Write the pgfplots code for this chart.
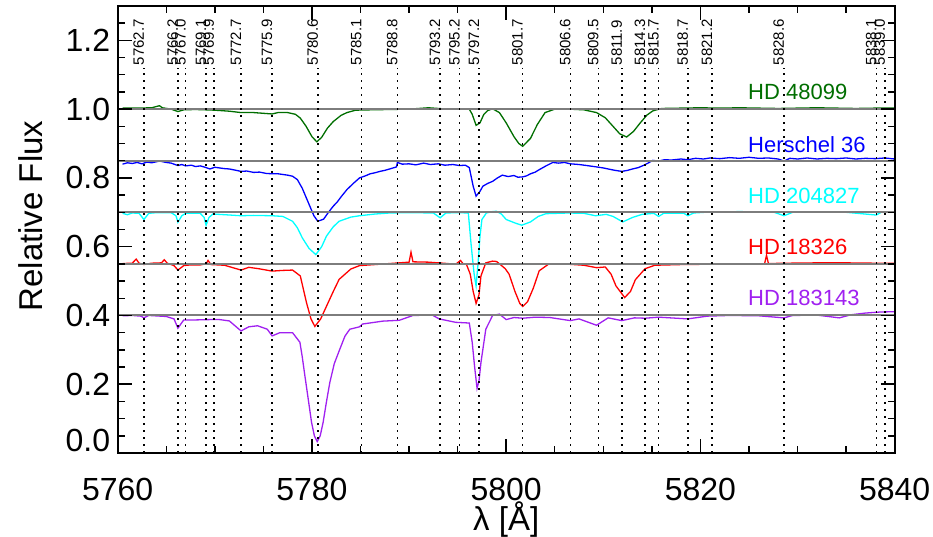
\documentclass[border=0pt]{standalone}
\usepackage{pgfplots}
\pgfplotsset{compat=1.18}
\usepackage{fontspec}
\setmainfont{Liberation Sans}
\definecolor{sgreen}{RGB}{0,110,0}
\definecolor{sblue}{RGB}{0,0,255}
\definecolor{scyan}{RGB}{0,255,255}
\definecolor{sred}{RGB}{255,0,0}
\definecolor{spurple}{RGB}{160,32,240}
\definecolor{sgray}{RGB}{125,125,125}
\begin{document}
\begin{tikzpicture}
\useasboundingbox (-117.7pt,-84pt) rectangle (815.3pt,453pt);
\begin{axis}[
  at={(0pt,0pt)}, anchor=south west,
  width=777pt, height=447pt, scale only axis,
  xmin=5760, xmax=5840, ymin=0, ymax=1.3,
  xtick={5760,5780,5800,5820,5840},
  xticklabels={5760,5780,5800,5820,5840},
  ytick={0.036,0.2,0.4,0.6,0.8,1.0,1.2},
  yticklabels={0.0,0.2,0.4,0.6,0.8,1.0,1.2},
  tick style={draw=none},
  axis line style={draw=black, line width=1.8pt},
  axis on top,
  /pgf/number format/assume math mode=true,
  tick label style={font=\fontsize{32}{32}\selectfont},
  xticklabel style={yshift=-22pt},
  yticklabel style={xshift=-4pt},
  xlabel={λ [Å]}, ylabel={Relative Flux},
  label style={font=\fontsize{33}{33}\selectfont},
  y label style={at={(axis description cs:-0.112,0.53)}, anchor=center},
  x label style={at={(axis description cs:0.5,0)}, anchor=center, inner sep=0pt, yshift=-67pt},
  clip=false,
]
% HD 48099
\addplot[sgreen, line width=1.3pt] coordinates {
(5760.5,1.003) (5762,1.003) (5763.5,1.004) (5764.3,1.01) (5764.6,1.004) (5765.5,1.0) (5766.2,0.993) (5766.8,0.998) (5768,0.999) (5770,0.997) (5771.5,0.994) (5772.7,0.99) (5774,0.99) (5775.9,0.986) (5776.5,0.99) (5777.5,0.99) (5778.3,0.985) (5778.8,0.974) (5779.4,0.95) (5780,0.92) (5780.5,0.905) (5781,0.918) (5781.6,0.945) (5782.2,0.964) (5783,0.982) (5783.6,0.99) (5784.5,0.997) (5786,0.998) (5788,0.999) (5790,1.0) (5792,1.004) (5793.5,1.001) (5795,1.0) (5796.2,1.0) (5796.5,0.985) (5796.9,0.953) (5797.3,0.96) (5797.7,0.985) (5798.1,0.996) (5798.6,1.001) (5799.3,0.99) (5800,0.96) (5800.8,0.92) (5801.3,0.9) (5801.7,0.892) (5802.5,0.915) (5803.2,0.955) (5804,0.99) (5805,1.0) (5806.5,1.0) (5808,0.998) (5809.3,0.99) (5810.2,0.975) (5811,0.95) (5811.7,0.928) (5812.4,0.919) (5813.1,0.935) (5813.8,0.96) (5814.5,0.983) (5815.1,0.995) (5816,1.002) (5818,1.003) (5820,1.004) (5822,1.003) (5824,1.004) (5826,1.003) (5828,1.002) (5830,1.003) (5832,1.004) (5834,1.003) (5836,1.002) (5838,1.003) (5840,1.003)
};
% Herschel 36
\addplot[sblue, line width=1.3pt] coordinates {
(5760.5,0.840) (5761,0.844) (5761.5,0.842) (5762,0.845) (5762.5,0.841) (5763,0.846) (5763.5,0.844) (5764.3,0.849) (5765,0.845) (5765.5,0.843) (5766.2,0.836) (5766.6,0.839) (5767,0.835) (5767.6,0.837) (5768,0.833) (5768.5,0.835) (5769,0.831) (5769.5,0.826) (5770,0.831) (5770.5,0.829) (5771,0.827) (5771.5,0.826) (5772.2,0.822) (5772.7,0.819) (5773.3,0.82) (5774,0.816) (5774.6,0.817) (5775.3,0.813) (5775.9,0.812) (5776.5,0.812) (5777,0.81) (5777.5,0.808) (5778,0.805) (5778.5,0.795) (5779,0.77) (5779.6,0.73) (5780.2,0.69) (5780.6,0.674) (5781.2,0.68) (5781.7,0.70) (5782.2,0.718) (5782.6,0.73) (5783,0.745) (5783.6,0.766) (5784.3,0.785) (5784.9,0.80) (5785.5,0.806) (5786,0.812) (5786.5,0.815) (5787,0.819) (5787.5,0.822) (5788,0.826) (5788.7,0.832) (5788.8,0.845) (5789.3,0.84) (5790,0.841) (5790.7,0.838) (5791.5,0.843) (5792.2,0.839) (5793,0.841) (5793.7,0.837) (5794.5,0.839) (5795.2,0.836) (5795.8,0.837) (5796.2,0.83) (5796.6,0.776) (5796.9,0.747) (5797.3,0.761) (5797.6,0.776) (5798.1,0.784) (5798.6,0.79) (5799.1,0.8) (5799.6,0.808) (5800.2,0.804) (5800.8,0.807) (5801.2,0.802) (5801.7,0.803) (5802.1,0.806) (5802.5,0.812) (5803,0.817) (5803.4,0.824) (5804.1,0.835) (5804.8,0.845) (5805.4,0.843) (5806,0.845) (5806.6,0.841) (5807.5,0.839) (5808.3,0.836) (5809.3,0.832) (5810,0.829) (5810.5,0.826) (5811.2,0.822) (5811.9,0.819) (5812.5,0.822) (5813,0.826) (5813.6,0.83) (5814.1,0.836) (5814.6,0.843) (5815.1,0.851) (5815.7,0.849) (5816.3,0.853) (5817,0.852) (5818,0.855) (5818.7,0.853) (5819.5,0.857) (5820.3,0.855) (5821,0.858) (5822,0.856) (5823,0.859) (5824,0.857) (5825,0.86) (5826,0.857) (5827,0.858) (5828,0.855) (5828.6,0.849) (5829.2,0.857) (5830,0.855) (5831,0.858) (5832,0.855) (5833,0.857) (5834,0.856) (5835,0.858) (5836,0.855) (5837,0.857) (5838,0.856) (5839,0.858) (5840,0.855)
};
% HD 204827
\addplot[scyan, line width=1.3pt] coordinates {
(5760.5,0.697) (5761,0.693) (5761.5,0.698) (5762.2,0.697) (5762.7,0.679) (5763.2,0.697) (5764,0.699) (5765.5,0.699) (5766.0,0.69) (5766.2,0.671) (5766.6,0.69) (5767,0.697) (5768.5,0.697) (5768.9,0.685) (5769.1,0.6625) (5769.4,0.685) (5769.8,0.695) (5771,0.693) (5772.7,0.69) (5774,0.691) (5775.9,0.69) (5777,0.688) (5778,0.674) (5778.5,0.655) (5779,0.626) (5779.7,0.595) (5780.4,0.577) (5781,0.6) (5781.5,0.631) (5782.2,0.658) (5782.8,0.674) (5784,0.686) (5784.9,0.69) (5786.5,0.695) (5788,0.698) (5790,0.699) (5792.5,0.698) (5793.2,0.684) (5793.8,0.698) (5795,0.699) (5796.1,0.698) (5796.4,0.602) (5796.7,0.52) (5796.9,0.486) (5797.1,0.55) (5797.3,0.63) (5797.5,0.679) (5797.96,0.698) (5798.6,0.702) (5799.0,0.703) (5799.5,0.695) (5800,0.679) (5801,0.668) (5801.6,0.6625) (5802.5,0.672) (5803.3,0.688) (5804.1,0.696) (5806.4,0.698) (5808,0.697) (5809.2,0.69) (5810.3,0.694) (5811,0.688) (5812,0.672) (5813,0.685) (5814,0.694) (5815.2,0.697) (5815.7,0.688) (5816.2,0.697) (5818.3,0.697) (5818.7,0.69) (5819.3,0.698) (5821,0.701) (5824,0.702) (5827.5,0.701) (5828.6,0.69) (5829.5,0.7) (5832,0.701) (5835,0.7) (5838.1,0.692) (5838.6,0.7) (5840,0.701)
};
% HD 18326
\addplot[sred, line width=1.3pt] coordinates {
(5760.5,0.551) (5761.5,0.552) (5761.9,0.564) (5762.2,0.552) (5762.7,0.548) (5763.5,0.552) (5764.5,0.553) (5764.8,0.562) (5765.1,0.552) (5765.8,0.545) (5766.2,0.532) (5766.8,0.545) (5767.5,0.547) (5768.5,0.547) (5769.1,0.55) (5769.3,0.56) (5769.6,0.548) (5771,0.546) (5772.7,0.532) (5773.5,0.54) (5774.5,0.536) (5775.9,0.529) (5777,0.531) (5778,0.532) (5778.8,0.515) (5779.44,0.437) (5779.9,0.39) (5780.3,0.368) (5780.9,0.39) (5781.5,0.427) (5782.2,0.47) (5782.8,0.505) (5784,0.535) (5784.9,0.545) (5787,0.549) (5789,0.553) (5790,0.555) (5790.2,0.584) (5790.4,0.556) (5792,0.555) (5793.5,0.552) (5794.8,0.549) (5795.3,0.56) (5795.6,0.549) (5795.9,0.549) (5796.3,0.52) (5796.6,0.47) (5796.9,0.435) (5797.2,0.46) (5797.4,0.515) (5797.9,0.553) (5798.6,0.558) (5799.0,0.557) (5799.4,0.548) (5799.9,0.536) (5800.3,0.52) (5800.9,0.47) (5801.4,0.435) (5801.7,0.426) (5802.2,0.44) (5802.8,0.48) (5803.4,0.53) (5804.4,0.55) (5806.4,0.549) (5808,0.546) (5809.3,0.539) (5810.2,0.541) (5810.8,0.52) (5811.3,0.486) (5812.2,0.452) (5812.8,0.47) (5813.3,0.504) (5814.3,0.536) (5815.3,0.546) (5818,0.548) (5821,0.549) (5824,0.549) (5826.6,0.55) (5826.8,0.575) (5827.0,0.551) (5829,0.552) (5832,0.553) (5835,0.553) (5838,0.552) (5840,0.552)
};
% HD 183143
\addplot[spurple, line width=1.3pt] coordinates {
(5760.5,0.399) (5761.5,0.4) (5762.4,0.398) (5762.7,0.393) (5763.2,0.4) (5765,0.397) (5765.8,0.39) (5766.2,0.363) (5766.8,0.387) (5768,0.387) (5769.5,0.388) (5770.5,0.388) (5771.5,0.384) (5772.7,0.355) (5773.5,0.367) (5774.4,0.37) (5775.4,0.36) (5775.9,0.3405) (5776.7,0.35) (5778,0.35) (5778.76,0.322) (5779.0,0.28) (5779.27,0.225) (5779.6,0.16) (5779.96,0.089) (5780.25,0.05) (5780.54,0.033) (5780.85,0.05) (5781.15,0.089) (5781.5,0.15) (5781.84,0.205) (5782.3,0.26) (5782.87,0.302) (5783.4,0.34) (5783.9,0.36) (5784.9,0.367) (5785.2,0.375) (5787.3,0.3835) (5789,0.386) (5790.4,0.4) (5792.4,0.401) (5793.1,0.39) (5794.8,0.38) (5796.2,0.378) (5796.5,0.322) (5796.75,0.25) (5797.0,0.188) (5797.2,0.21) (5797.4,0.263) (5797.9,0.36) (5798.6,0.40) (5799.3,0.404) (5800.0,0.388) (5800.8,0.394) (5801.7,0.392) (5803,0.395) (5804.5,0.394) (5806.6,0.385) (5807.5,0.39) (5809.3,0.3715) (5810.5,0.393) (5811.9,0.385) (5813.2,0.393) (5814.3,0.392) (5815.7,0.395) (5818.7,0.39) (5820.7,0.398) (5823,0.4) (5826,0.399) (5828.6,0.393) (5829.5,0.4) (5832,0.401) (5834.3,0.393) (5835.5,0.402) (5837,0.407) (5838.5,0.41) (5840,0.411)
};
% continuum references
\addplot[sgray, line width=2pt] coordinates {(5760,1.0) (5840,1.0)};
\addplot[sgray, line width=2pt] coordinates {(5760,0.85) (5840,0.85)};
\addplot[sgray, line width=2pt] coordinates {(5760,0.70) (5840,0.70)};
\addplot[sgray, line width=2pt] coordinates {(5760,0.55) (5840,0.55)};
\addplot[sgray, line width=2pt] coordinates {(5760,0.40) (5840,0.40)};
% tick marks (inside, on all four sides)
\pgfplotsinvokeforeach{5760,5780,5800,5820,5840}{
  \addplot[black, line width=1.6pt] coordinates {(#1,0) (#1,0.0407)};
  \addplot[black, line width=1.6pt] coordinates {(#1,1.3) (#1,1.2593)};
}
\pgfplotsinvokeforeach{5765,5770,5775,5785,5790,5795,5805,5810,5815,5825,5830,5835}{
  \addplot[black, line width=1.4pt] coordinates {(#1,0) (#1,0.0204)};
  \addplot[black, line width=1.4pt] coordinates {(#1,1.3) (#1,1.2796)};
}
\pgfplotsinvokeforeach{0,0.2,0.4,0.6,0.8,1.0,1.2}{
  \addplot[black, line width=1.6pt] coordinates {(5760,#1) (5761.44,#1)};
  \addplot[black, line width=1.6pt] coordinates {(5840,#1) (5838.56,#1)};
}
\pgfplotsinvokeforeach{0.05,0.1,0.15,0.25,0.3,0.35,0.45,0.5,0.55,0.65,0.7,0.75,0.85,0.9,0.95,1.05,1.1,1.15,1.25}{
  \addplot[black, line width=1.4pt] coordinates {(5760,#1) (5760.72,#1)};
  \addplot[black, line width=1.4pt] coordinates {(5840,#1) (5839.28,#1)};
}
% star names
\node[sgreen, anchor=base west, inner sep=0pt, font=\fontsize{22}{22}\selectfont] at (axis cs:5824.9,1.027) {HD 48099};
\node[sblue, anchor=base west, inner sep=0pt, font=\fontsize{22}{22}\selectfont] at (axis cs:5824.9,0.873) {Herschel 36};
\node[scyan, anchor=base west, inner sep=0pt, font=\fontsize{22}{22}\selectfont] at (axis cs:5824.9,0.725) {HD 204827};
\node[sred, anchor=base west, inner sep=0pt, font=\fontsize{22}{22}\selectfont] at (axis cs:5824.9,0.577) {HD 18326};
\node[spurple, anchor=base west, inner sep=0pt, font=\fontsize{22}{22}\selectfont] at (axis cs:5824.9,0.429) {HD 183143};
% DIB markers
\pgfplotsinvokeforeach{5762.7,5766.2,5767.0,5769.1,5769.9,5772.7,5775.9,5780.6,5785.1,5788.8,5793.2,5795.2,5797.2,5801.7,5806.6,5809.5,5811.9,5814.3,5815.7,5818.7,5821.2,5828.6,5838.1,5839.0}{
  \addplot[black, line width=1.5pt, dash pattern=on 1.5pt off 5.5pt] coordinates {(#1,0) (#1,1.12)};
  \node[rotate=90, anchor=base west, inner sep=0pt, font=\fontsize{15}{15}\selectfont] at (axis cs:#1,1.127) {#1};
}
\end{axis}
\end{tikzpicture}
\end{document}
